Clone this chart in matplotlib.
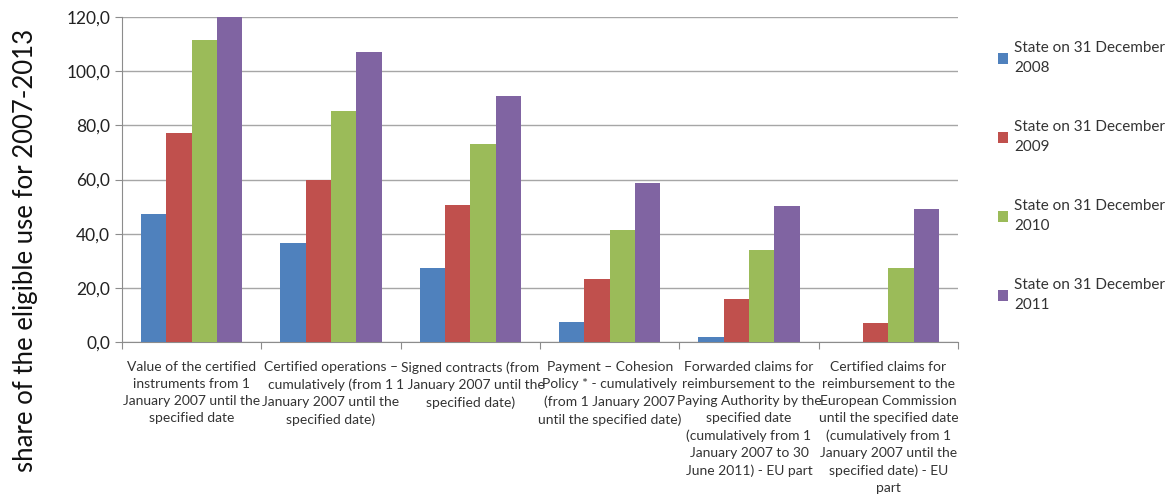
import numpy as np
import matplotlib.pyplot as plt
from matplotlib.ticker import FuncFormatter

plt.rcParams['font.family'] = ['Lato', 'DejaVu Sans']

categories = [
    "Value of the certified\ninstruments from 1\nJanuary 2007 until the\nspecified date",
    "Certified operations \u2013\ncumulatively (from 1\nJanuary 2007 until the\nspecified date)",
    "Signed contracts (from\n1 January 2007 until the\nspecified date)",
    "Payment \u2013 Cohesion\nPolicy * - cumulatively\n(from 1 January 2007\nuntil the specified date)",
    "Forwarded claims for\nreimbursement to the\nPaying Authority by the\nspecified date\n(cumulatively from 1\nJanuary 2007 to 30\nJune 2011) - EU part",
    "Certified claims for\nreimbursement to the\nEuropean Commission\nuntil the specified date\n(cumulatively from 1\nJanuary 2007 until the\nspecified date) - EU\npart",
]
series_names = [
    "State on 31 December\n2008",
    "State on 31 December\n2009",
    "State on 31 December\n2010",
    "State on 31 December\n2011",
]
s2008 = [47.3, 36.6, 27.3, 7.4, 1.8, 0.0]
s2009 = [77.2, 59.8, 50.6, 23.3, 15.9, 7.0]
s2010 = [111.5, 85.3, 73.1, 41.4, 34.0, 27.3]
s2011 = [120.0, 107.1, 90.8, 58.7, 50.2, 49.1]
colors = ['#4F81BD', '#C0504D', '#9BBB59', '#8064A2']

fig = plt.figure(figsize=(11.74, 4.95), dpi=100)
ax = fig.add_axes([0.1039, 0.309, 0.7121, 0.6567])

x = np.arange(len(categories))
w = 1 / 5.5
for i, (vals, name) in enumerate(zip([s2008, s2009, s2010, s2011], series_names)):
    ax.bar(x + (i - 1.5) * w, vals, width=w, color=colors[i], label=name, zorder=3)

ax.set_xlim(-0.5, len(categories) - 0.5)
ax.set_ylim(0, 120)
ax.set_yticks(np.arange(0, 121, 20))
ax.yaxis.set_major_formatter(FuncFormatter(lambda v, p: f"{v:.1f}".replace('.', ',')))
ax.grid(axis='y', color='#a6a6a6', linewidth=1, zorder=0)

# boundaries as major ticks, labels on minor ticks
ax.set_xticks(np.arange(-0.5, len(categories), 1))
ax.set_xticklabels([])
ax.set_xticks(x, minor=True)
ax.set_xticklabels(categories, minor=True, fontsize=10, color='#333333', linespacing=1.5)
ax.tick_params(axis='x', which='minor', length=0, pad=14)
ax.tick_params(axis='x', which='major', length=5, color='#8c8c8c')
ax.tick_params(axis='y', length=5, color='#8c8c8c', labelsize=12.5, labelcolor='#222222')

for s in ['top', 'right']:
    ax.spines[s].set_visible(False)
for s in ['left', 'bottom']:
    ax.spines[s].set_color('#8c8c8c')

fig.text(0.022, 0.495, 'share of the eligible use for 2007-2013', rotation=90,
         fontsize=18.5, ha='center', va='center', color='#111111')

leg = fig.legend(loc='upper left', bbox_to_anchor=(0.838, 0.945), frameon=False,
                 fontsize=11, handlelength=0.7, handleheight=0.7, handletextpad=0.4,
                 labelspacing=2.95)
for t in leg.get_texts():
    t.set_linespacing(1.55)
    t.set_color('#333333')

fig.savefig('out.png', dpi=100)
